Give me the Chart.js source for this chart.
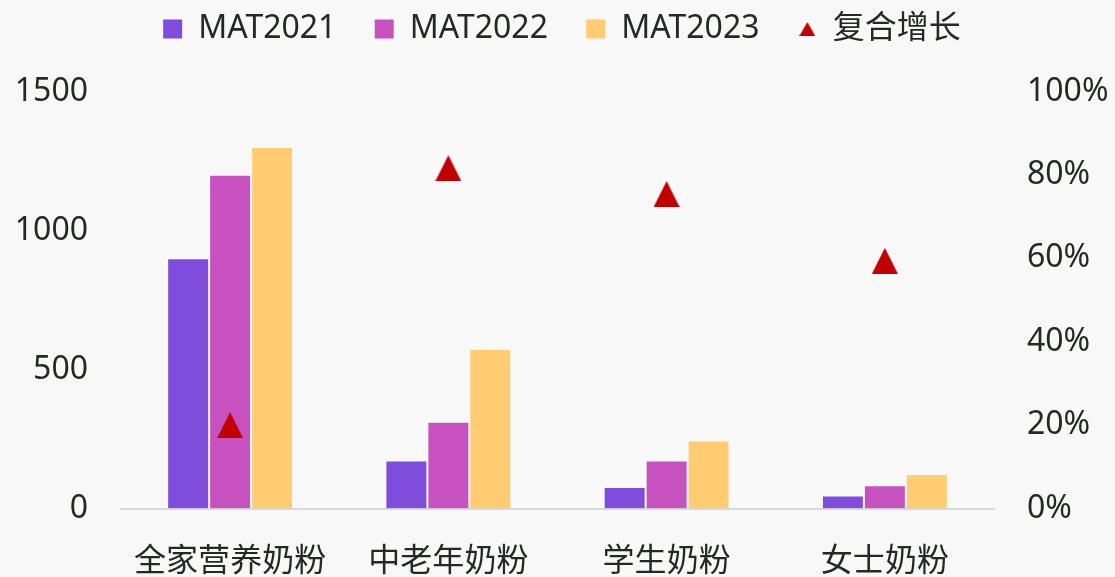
<!DOCTYPE html>
<html>
<head>
<meta charset="utf-8">
<script src="https://cdn.jsdelivr.net/npm/chart.js@4.4.0/dist/chart.umd.min.js"></script>
<style>
  html, body { margin: 0; padding: 0; background: #f8f8f8; overflow: hidden; }
  .chart { width: 1115px; height: 577px; }
</style>
</head>
<body>
<div class="chart">
  <canvas id="chartbox"></canvas>
</div>
<script>
// data
const categories = ['全家营养奶粉', '中老年奶粉', '学生奶粉', '女士奶粉']
const mat2021 = [900, 173, 78, 47]
const mat2022 = [1200, 312, 173, 84]
const mat2023 = [1300, 574, 245, 124]
const growth = [0.20, 0.816, 0.754, 0.594]
const leftTicks = [0, 500, 1000, 1500]
const rightTicks = [0, 0.2, 0.4, 0.6, 0.8, 1.0]

const textColor = '#262922'
const fontFamily = '"Noto Sans", "Noto Sans CJK SC", sans-serif'

// triangle marker as a small canvas
const makeTriangle = (w, h, color) => {
  const c = document.createElement('canvas')
  c.width = w
  c.height = h
  const ctx = c.getContext('2d')
  ctx.fillStyle = color
  ctx.beginPath()
  ctx.moveTo(w / 2, 0)
  ctx.lineTo(w, h)
  ctx.lineTo(0, h)
  ctx.closePath()
  ctx.fill()
  return c
}
const bigTriangle = makeTriangle(26, 26, '#c00000')
const smallTriangle = makeTriangle(16, 14, '#c00000')

const barStyle = (color) => ({
  backgroundColor: color,
  borderColor: 'rgba(255,255,255,0.35)',
  borderWidth: 1,
  pointStyle: 'rect',
  barPercentage: 1.0,
  categoryPercentage: 0.577,
  yAxisID: 'y',
  order: 1
})

new Chart(document.querySelector('#chartbox'), {
  type: 'bar',
  data: {
    labels: categories,
    datasets: [
      { label: 'MAT2021', data: mat2021, ...barStyle('#804cdb') },
      { label: 'MAT2022', data: mat2022, ...barStyle('#c752bf') },
      { label: 'MAT2023', data: mat2023, ...barStyle('#ffcc72') },
      {
        type: 'line',
        label: '复合增长',
        data: growth,
        showLine: false,
        pointStyle: bigTriangle,
        pointRadius: 13,
        backgroundColor: '#c00000',
        borderColor: '#c00000',
        yAxisID: 'y1',
        order: 0
      }
    ]
  },
  options: {
    responsive: true,
    maintainAspectRatio: false,
    animation: false,
    layout: { autoPadding: false, padding: { left: 15, right: 6, top: -17, bottom: -38 } },
    plugins: {
      tooltip: { enabled: false },
      // empty spacer between legend and plot
      subtitle: {
        display: true,
        text: ' ',
        weight: 500,
        font: { size: 2 },
        padding: { top: 17, bottom: 17 }
      },
      legend: {
        position: 'top',
        labels: {
          color: textColor,
          font: { family: fontFamily, size: 32 },
          boxWidth: 19,
          boxHeight: 19,
          padding: 30,
          usePointStyle: true,
          sort: (a, b) => a.datasetIndex - b.datasetIndex,
          generateLabels: (chart) => {
            const items = Chart.defaults.plugins.legend.labels.generateLabels(chart)
            items.forEach(it => {
              it.lineWidth = 0
              if (it.datasetIndex === 3) it.pointStyle = smallTriangle
              else it.text = it.text + ' '
            })
            return items
          }
        }
      }
    },
    scales: {
      x: {
        grid: { display: false, drawTicks: false },
        border: { display: true, color: '#d9d9d9', width: 2 },
        ticks: { color: textColor, font: { family: fontFamily, size: 32 }, padding: 34 }
      },
      y: {
        position: 'left',
        min: 0,
        max: 1500,
        afterBuildTicks: (axis) => { axis.ticks = leftTicks.map(v => ({ value: v })) },
        afterFit: (axis) => { axis.width = 106 },
        grid: { display: false, drawTicks: false },
        border: { display: false },
        ticks: {
          color: textColor,
          font: { family: fontFamily, size: 32 },
          padding: 33,
          callback: (v) => String(v)
        }
      },
      y1: {
        position: 'right',
        min: 0,
        max: 1,
        afterBuildTicks: (axis) => { axis.ticks = rightTicks.map(v => ({ value: v })) },
        afterFit: (axis) => { axis.width = 115 },
        grid: { display: false, drawTicks: false },
        border: { display: false },
        ticks: {
          color: textColor,
          font: { family: fontFamily, size: 32 },
          padding: 33,
          callback: (v) => Math.round(v * 100) + '%'
        }
      }
    }
  }
})
</script>
</body>
</html>
